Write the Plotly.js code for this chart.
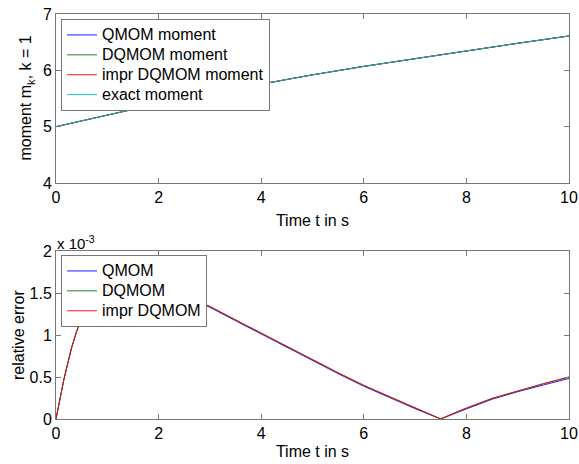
<!DOCTYPE html>
<html>
<head>
<meta charset="utf-8">
<script src="https://cdn.plot.ly/plotly-3.0.1.min.js"></script>
<style>html,body{margin:0;padding:0;background:#fff;}#chart{width:579px;height:464px;}</style>
</head>
<body>
<div id="chart"></div>
<script>
// ---- data ----
var tMoment = [0, 1, 2, 3, 4, 5, 6, 7, 8, 9, 10];
var qmomMoment  = [5.00, 5.21, 5.41, 5.59, 5.76, 5.92, 6.07, 6.21, 6.35, 6.48, 6.61];
var dqmomMoment = [5.00, 5.21, 5.41, 5.59, 5.76, 5.92, 6.07, 6.21, 6.35, 6.48, 6.61];
var imprMoment  = [5.00, 5.21, 5.41, 5.59, 5.76, 5.92, 6.07, 6.21, 6.35, 6.48, 6.61];
var exactMoment = [5.00, 5.21, 5.41, 5.59, 5.76, 5.92, 6.07, 6.21, 6.35, 6.48, 6.61];

var tErr = [0, 0.05, 0.1, 0.15, 0.2, 0.3, 0.4, 0.5, 0.6, 0.8, 1.0, 1.25, 1.5, 2.0, 2.5, 3.0, 3.5, 4.0, 4.5, 5.0, 5.5, 6.0, 6.5, 7.0, 7.5, 7.75, 8.0, 8.5, 9.0, 9.5, 10];
// relative error, in units of 1e-3
var qmomErr  = [0, 0.17, 0.32, 0.46, 0.59, 0.84, 1.04, 1.20, 1.32, 1.47, 1.55, 1.60, 1.61, 1.57, 1.47, 1.33, 1.17, 1.01, 0.85, 0.695, 0.54, 0.39, 0.255, 0.123, 0.0, 0.062, 0.12, 0.235, 0.325, 0.405, 0.483];
var dqmomErr = [0, 0.17, 0.32, 0.46, 0.59, 0.84, 1.04, 1.20, 1.32, 1.47, 1.55, 1.60, 1.61, 1.57, 1.47, 1.34, 1.18, 1.02, 0.86, 0.705, 0.55, 0.40, 0.265, 0.13, 0.0, 0.067, 0.13, 0.245, 0.335, 0.42, 0.50];
var imprErr  = [0, 0.17, 0.32, 0.46, 0.59, 0.84, 1.04, 1.20, 1.32, 1.47, 1.55, 1.60, 1.61, 1.57, 1.47, 1.34, 1.18, 1.02, 0.86, 0.705, 0.55, 0.40, 0.265, 0.13, 0.0, 0.067, 0.13, 0.245, 0.335, 0.42, 0.50];

var namesTop = ['QMOM moment', 'DQMOM moment', 'impr DQMOM moment', 'exact moment'];
var namesBot = ['QMOM', 'DQMOM', 'impr DQMOM'];

var xTicks = [0, 2, 4, 6, 8, 10];
var yTicksTop = [4, 5, 6, 7];
var yTicksBot = [0, 0.5, 1, 1.5, 2];
var yTicksBotText = ['0', '0.5', '1', '1.5', '2'];

var cBlue = 'rgb(0,0,255)', cGreen = 'rgb(0,128,0)', cRed = 'rgb(255,0,0)', cCyan = 'rgb(0,191,191)';
var FONT = 'Liberation Sans, Arial, Helvetica, sans-serif';
var FS = 16;

function nm(s) { return '<span style="font-size:16px">' + s + '</span>'; }
function tr(x, y, name, color, xa, ya, leg) {
  return {x: x, y: y, name: nm(name), type: 'scatter', mode: 'lines',
          line: {color: color, width: 0.9}, xaxis: xa, yaxis: ya, legend: leg};
}

var data = [
  tr(tMoment, qmomMoment, namesTop[0], cBlue, 'x', 'y', 'legend'),
  tr(tMoment, dqmomMoment, namesTop[1], cGreen, 'x', 'y', 'legend'),
  tr(tMoment, imprMoment, namesTop[2], cRed, 'x', 'y', 'legend'),
  tr(tMoment, exactMoment, namesTop[3], cCyan, 'x', 'y', 'legend'),
  tr(tErr, qmomErr, namesBot[0], cBlue, 'x2', 'y2', 'legend2'),
  tr(tErr, dqmomErr, namesBot[1], cGreen, 'x2', 'y2', 'legend2'),
  tr(tErr, imprErr, namesBot[2], cRed, 'x2', 'y2', 'legend2')
];

var axisCommon = {
  showline: true, linecolor: '#777', linewidth: 1, mirror: 'ticks',
  ticks: 'inside', ticklen: 5, tickcolor: '#777', tickwidth: 1,
  showgrid: false, zeroline: false, tickfont: {family: FONT, size: FS, color: '#000'}
};
function ax(extra) { return Object.assign({}, axisCommon, extra); }

var legFont = {family: FONT, size: 13, color: '#000'};
var topDom = [0.5827, 1], botDom = [0, 0.4148];

var layout = {
  width: 579, height: 464,
  margin: {l: 56, r: 10, t: 14, b: 45},
  paper_bgcolor: '#fff', plot_bgcolor: '#fff',
  font: {family: FONT, size: FS, color: '#000'},
  showlegend: true,
  xaxis: ax({domain: [0, 1], range: [0, 10], tickvals: xTicks, anchor: 'y',
             title: {text: 'Time t in s', font: {family: FONT, size: FS}, standoff: 9}}),
  yaxis: ax({domain: topDom, range: [4, 7], tickvals: yTicksTop, anchor: 'x'}),
  xaxis2: ax({domain: [0, 1], range: [0, 10], tickvals: xTicks, anchor: 'y2',
             title: {text: 'Time t in s', font: {family: FONT, size: FS}, standoff: 4}}),
  yaxis2: ax({domain: botDom, range: [0, 2], tickvals: yTicksBot, ticktext: yTicksBotText, anchor: 'x2'}),
  legend: {x: 0.0098, y: 0.9877, xanchor: 'left', yanchor: 'top', bgcolor: '#fff',
           bordercolor: '#777', borderwidth: 1, font: legFont, tracegroupgap: 0},
  legend2: {x: 0.0098, y: (419 - 255) / 405, xanchor: 'left', yanchor: 'top', bgcolor: '#fff',
           bordercolor: '#777', borderwidth: 1, font: legFont, tracegroupgap: 0},
  annotations: [
    {xref: 'paper', yref: 'paper', x: -0.002, y: botDom[1], xanchor: 'left', yanchor: 'bottom',
     text: 'x 10<sup>-3</sup>', showarrow: false, font: {family: FONT, size: 15, color: '#000'}, yshift: -3},
    {xref: 'paper', yref: 'paper', x: 0, y: (topDom[0] + topDom[1]) / 2, xanchor: 'center', yanchor: 'middle',
     xshift: -29, textangle: -90, text: 'moment m<sub>k</sub>, k = 1', showarrow: false,
     font: {family: FONT, size: FS, color: '#000'}},
    {xref: 'paper', yref: 'paper', x: 0, y: (botDom[0] + botDom[1]) / 2, xanchor: 'center', yanchor: 'middle',
     xshift: -38, textangle: -90, text: 'relative error', showarrow: false,
     font: {family: FONT, size: FS, color: '#000'}}
  ]
};

Plotly.newPlot('chart', data, layout, {displayModeBar: false, staticPlot: true});
</script>
</body>
</html>
